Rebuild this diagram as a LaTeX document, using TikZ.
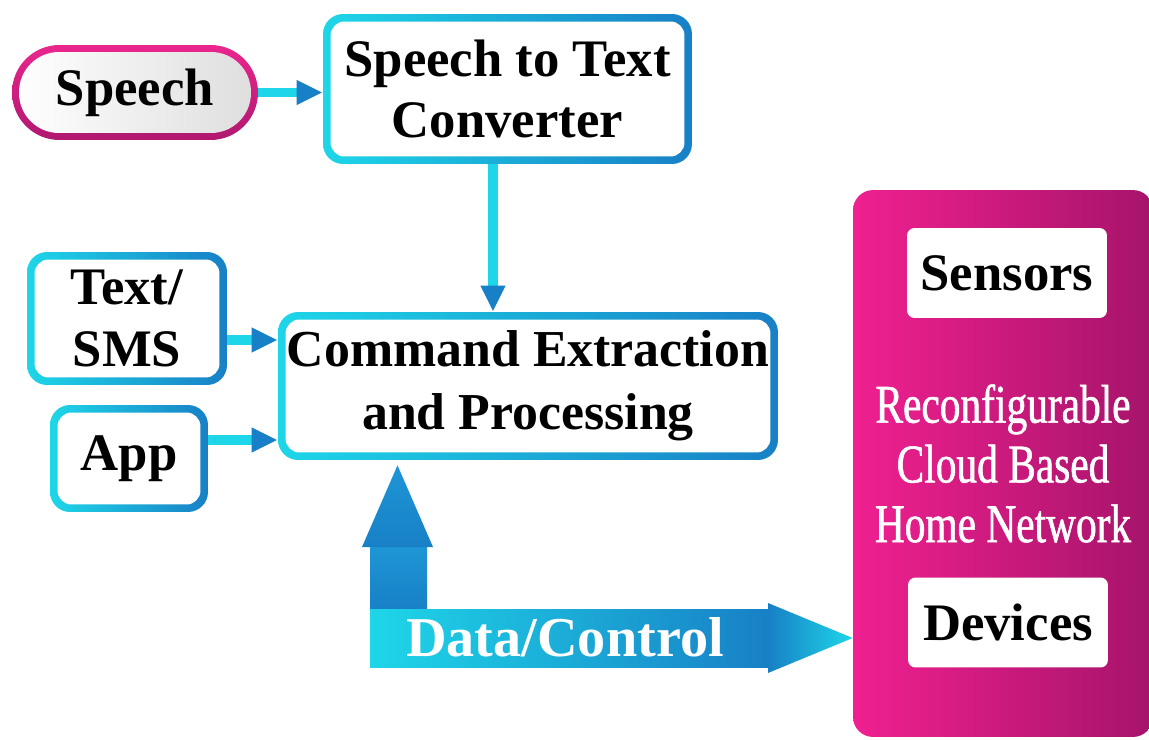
\documentclass[tikz,border=0pt]{standalone}
\usepackage{fontspec}
\setmainfont{Liberation Serif}
\newfontfamily\narrowfont[FakeStretch=0.76,FakeBold=1]{Liberation Serif}
\usetikzlibrary{arrows.meta,calc}

\definecolor{lcyan}{RGB}{30,214,232}
\definecolor{dblue}{RGB}{24,128,198}
\definecolor{mblue}{RGB}{30,150,214}
\definecolor{hotpink}{RGB}{240,32,144}
\definecolor{plum}{RGB}{166,20,106}
\definecolor{spink}{RGB}{234,38,142}
\definecolor{sdark}{RGB}{176,24,112}

\tikzset{
  bigfont/.style={font=\bfseries\fontsize{30}{35}\selectfont},
  % box with a cyan-to-blue frame and a white inside
  gbox/.style={rectangle, rounded corners=0.4cm, left color=lcyan, right color=dblue,
    inner sep=0pt, align=center, bigfont,
    path picture={\fill[white, rounded corners=0.28cm]
      ([shift={(0.15cm,0.15cm)}]path picture bounding box.south west) rectangle
      ([shift={(-0.15cm,-0.15cm)}]path picture bounding box.north east);}},
  pill/.style={rectangle, rounded corners=0.95cm, top color=spink, bottom color=sdark,
    inner sep=0pt, bigfont,
    path picture={\shade[left color=white, right color=black!13, rounded corners=0.8cm]
      ([shift={(0.14cm,0.14cm)}]path picture bounding box.south west) rectangle
      ([shift={(-0.14cm,-0.14cm)}]path picture bounding box.north east);}},
  wbox/.style={rectangle, rounded corners=0.15cm, fill=white, inner sep=0pt,
    minimum width=4cm, minimum height=1.8cm, bigfont},
  conn/.style={line width=0.19cm, draw=lcyan, -{Triangle[length=0.52cm,width=0.46cm,color=dblue]}},
}

\begin{document}
\begin{tikzpicture}[x=0.02cm, y=-0.02cm]
\useasboundingbox (0,0) rectangle (1149,740);

% inputs
\node[pill, minimum width=4.92cm, minimum height=1.9cm] (speech) at (135,92.5) {Speech};
\node[gbox, minimum width=7.38cm, minimum height=3cm] (stt) at (507.5,89) {Speech to Text\\Converter};
\node[gbox, minimum width=4cm, minimum height=2.66cm] (sms) at (127,318.5) {Text/\\SMS};
\node[gbox, minimum width=3.16cm, minimum height=2.14cm] (app) at (129,458.5) {App};
\node[gbox, minimum width=10cm, minimum height=2.96cm, font=\bfseries\fontsize{29.5}{36}\selectfont] (cmd) at (528,386) {Command Extraction\\and Processing};

% home network
\node[rectangle, rounded corners=0.4cm, left color=hotpink, right color=plum, text=white,
  minimum width=6cm, minimum height=10.94cm, align=center,
  font=\narrowfont\fontsize{31}{34}\selectfont] (cloud) at (1003,463.5)
  {Reconfigurable\\Cloud Based\\Home Network};
\node[wbox] (sensors) at (1007,273) {Sensors};
\node[wbox] (devices) at (1008,622.5) {Devices};

\draw[conn] (speech.east) -- (speech.east -| stt.west);
\draw[conn] ([xshift=-0.29cm]stt.south) -- ([xshift=-0.29cm]stt.south |- cmd.north);
\draw[conn] ([yshift=-0.43cm]sms.east) -- ([yshift=-0.43cm]sms.east -| cmd.west);
\draw[conn] ([yshift=0.37cm]app.east) -- ([yshift=0.37cm]app.east -| cmd.west);

% data/control arrow
\coordinate (dc) at (370,667);
\shade[top color=mblue, bottom color=dblue] (dc |- 0,609) rectangle (427,547);
\shade[top color=mblue, bottom color=dblue] (362,547) -- ($(cmd.south -| 397.5,0)+(0,5)$) -- (433,547) -- cycle;
\shade[left color=lcyan, right color=dblue] (dc) rectangle (768,609);
\shade[left color=dblue, right color=lcyan] (768,603) -- (cloud.west |- 0,638) -- (768,673) -- cycle;
\node[text=white, font=\bfseries\fontsize{32}{35}\selectfont] (dclabel) at (565,637) {Data/Control};
\end{tikzpicture}
\end{document}
